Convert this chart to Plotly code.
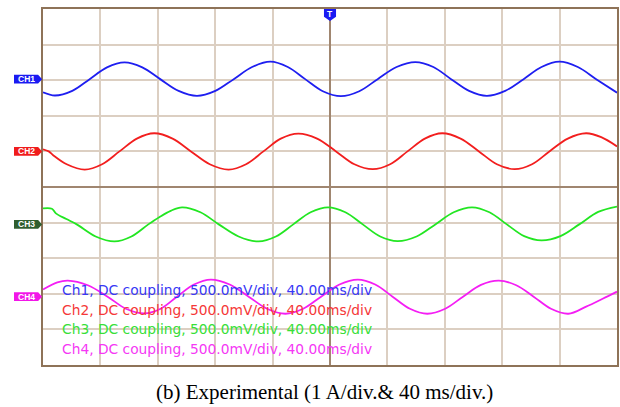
import plotly.graph_objects as go

# Scope settings: 10 x 40 ms horizontal divisions, 10 vertical divisions
TIME_PER_DIV = 40.0
CHANNELS = ["CH1", "CH2", "CH3", "CH4"]
GROUND_LEVEL = [3.03, 1.0, -1.05, -3.08]          # ground marker level (div)
TRACE_COLORS = ["#1E1EF0", "#F21E1E", "#22E622", "#F41EF4"]
MARKER_COLORS = ["#1A1AF2", "#F01C1C", "#2F5E2F", "#F216E8"]
TEXT_COLORS = ["#3838F5", "#F53838", "#38E038", "#F538F5"]

# Captured waveforms: time (ms, trigger at 0) and signal (div above ground)
ch1_t = [-200.0, -191.7, -179.6, -167.5, -155.4, -143.2, -130.8, -118.3, -105.5,
         -92.7, -79.9, -67.1, -54.3, -41.5, -29.4, -17.3, -5.0, 7.6, 20.4,
         33.2, 46.4, 59.5, 72.0, 84.4, 96.9, 109.3, 122.1, 134.9, 147.4,
         159.9, 172.7, 185.5, 200.0]
ch1_v = [-0.37, -0.46, -0.33, 0.0, 0.33, 0.47, 0.33, 0.0, -0.33,
         -0.47, -0.33, 0.0, 0.34, 0.49, 0.34, 0.0, -0.34, -0.48, -0.34,
         0.0, 0.34, 0.48, 0.34, 0.0, -0.33, -0.47, -0.33, 0.0, 0.34,
         0.49, 0.34, 0.0, -0.38]

ch2_t = [-200.0, -196.0, -193.1, -183.5, -170.9, -158.8, -146.7, -134.6, -122.5,
         -109.7, -96.9, -83.8, -70.6, -58.5, -46.4, -34.3, -22.1, -9.0, 4.2,
         17.0, 29.8, 41.9, 54.0, 66.1, 78.2, 91.0, 103.8, 116.3, 128.7,
         140.8, 152.9, 165.7, 178.5, 189.0, 200.0]
ch2_v = [0.06, 0.0, -0.10, -0.36, -0.51, -0.36, 0.0, 0.36, 0.51,
         0.36, 0.0, -0.36, -0.51, -0.36, 0.0, 0.36, 0.50, 0.36, 0.0,
         -0.36, -0.50, -0.36, 0.0, 0.36, 0.51, 0.36, 0.0, -0.36, -0.50,
         -0.36, 0.0, 0.36, 0.51, 0.40, 0.14]

ch3_t = [-200.0, -193.8, -191.0, -183.7, -176.5, -163.3, -150.2, -138.4, -126.6,
         -119.0, -111.0, -103.1, -90.3, -77.5, -63.7, -49.8, -37.7, -25.6, -13.5,
         -1.4, 10.7, 22.8, 35.0, 47.1, 60.3, 73.4, 86.2, 99.0, 111.1,
         123.2, 135.3, 147.4, 160.6, 173.7, 186.9, 200.0]
ch3_v = [0.45, 0.44, 0.31, 0.15, 0.0, -0.34, -0.48, -0.34, 0.0,
         0.20, 0.38, 0.48, 0.34, 0.0, -0.34, -0.48, -0.34, 0.0, 0.34,
         0.48, 0.34, 0.0, -0.34, -0.47, -0.34, 0.0, 0.34, 0.48, 0.34,
         0.0, -0.33, -0.45, -0.33, 0.0, 0.35, 0.50]

ch4_t = [-200.0, -190.0, -182.7, -168.8, -155.0, -142.2, -129.4, -118.0, -106.6,
         -94.8, -83.0, -69.9, -56.7, -43.9, -31.1, -18.7, -6.2, 6.6, 19.4,
         31.5, 43.6, 55.7, 67.8, 80.3, 92.7, 105.2, 117.6, 129.8, 141.9,
         154.0, 166.1, 178.5, 190.0, 200.0]
ch4_v = [0.20, 0.40, 0.45, 0.32, 0.0, -0.34, -0.47, -0.34, 0.0,
         0.34, 0.48, 0.34, 0.0, -0.34, -0.48, -0.34, 0.0, 0.34, 0.48,
         0.34, 0.0, -0.34, -0.48, -0.34, 0.0, 0.33, 0.45, 0.32, 0.0,
         -0.34, -0.48, -0.28, -0.06, 0.14]

times = [ch1_t, ch2_t, ch3_t, ch4_t]
values = [ch1_v, ch2_v, ch3_v, ch4_v]

status_lines = [
    "Ch1, DC coupling, 500.0mV/div, 40.00ms/div",
    "Ch2, DC coupling, 500.0mV/div, 40.00ms/div",
    "Ch3, DC coupling, 500.0mV/div, 40.00ms/div",
    "Ch4, DC coupling, 500.0mV/div, 40.00ms/div",
]
caption = "(b) Experimental (1 A/div.& 40 ms/div.)"

GRID = "#DCCFC2"
CENTER = "#A08670"
FRAME = "#8E7358"

fig = go.Figure()
for name, t, v, off, col in zip(CHANNELS, times, values, GROUND_LEVEL, TRACE_COLORS):
    fig.add_trace(go.Scatter(
        x=t, y=[off + s for s in v], mode="lines", name=name,
        line=dict(color=col, width=1.8, shape="spline", smoothing=1.0),
        showlegend=False, hoverinfo="skip",
    ))

shapes = []
annotations = []

# Ground markers on the left of the graticule
for name, off, col in zip(CHANNELS, GROUND_LEVEL, MARKER_COLORS):
    h = 0.125
    x0, x1, xt = -0.0505, -0.0085, -0.0015
    shapes.append(dict(
        type="path", xref="paper", yref="y",
        path=f"M {x0},{off - h} L {x1},{off - h} L {xt},{off} L {x1},{off + h} L {x0},{off + h} Z",
        fillcolor=col, line=dict(width=0), layer="above",
    ))
    annotations.append(dict(
        x=(x0 + x1) / 2, y=off, xref="paper", yref="y", text=f"<b>{name}</b>",
        showarrow=False, font=dict(family="Liberation Sans, Arial", size=8.5, color="white"),
        xanchor="center", yanchor="middle",
    ))

# Trigger marker at the top centre
hw = 4.2
shapes.append(dict(
    type="path", xref="x", yref="paper",
    path=f"M {-hw},1.0 L {hw},1.0 L {hw},0.978 L 0,0.966 L {-hw},0.978 Z",
    fillcolor="#1A1AF2", line=dict(width=0), layer="above",
))
annotations.append(dict(
    x=0, y=0.985, xref="x", yref="paper", text="<b>T</b>", showarrow=False,
    font=dict(family="Liberation Sans, Arial", size=8.5, color="white"),
    xanchor="center", yanchor="middle",
))

# Channel status readout
for i, (line, col) in enumerate(zip(status_lines, TEXT_COLORS)):
    annotations.append(dict(
        x=-188.5, y=-2.89 - 0.555 * i, xref="x", yref="y", text=line,
        showarrow=False, xanchor="left", yanchor="middle",
        font=dict(family="DejaVu Sans", size=13.8, color=col),
    ))

# Caption under the screen
annotations.append(dict(
    x=0.491, y=-0.076, xref="paper", yref="paper", text=caption,
    showarrow=False, xanchor="center", yanchor="middle",
    font=dict(family="Liberation Serif, Times New Roman", size=21, color="black"),
))

axis_common = dict(
    showticklabels=False, ticks="", showgrid=True, gridcolor=GRID, gridwidth=1.5,
    zeroline=True, zerolinecolor=CENTER, zerolinewidth=2,
    showline=True, mirror=True, linecolor=FRAME, linewidth=2,
)

fig.update_layout(
    width=620, height=407,
    margin=dict(l=43, r=1, t=9, b=42),
    paper_bgcolor="white", plot_bgcolor="white",
    xaxis=dict(range=[-5 * TIME_PER_DIV, 5 * TIME_PER_DIV], dtick=TIME_PER_DIV, tick0=0, **axis_common),
    yaxis=dict(range=[-5, 5], dtick=1, tick0=0, **axis_common),
    shapes=shapes, annotations=annotations,
)

fig.write_html("out.html")
